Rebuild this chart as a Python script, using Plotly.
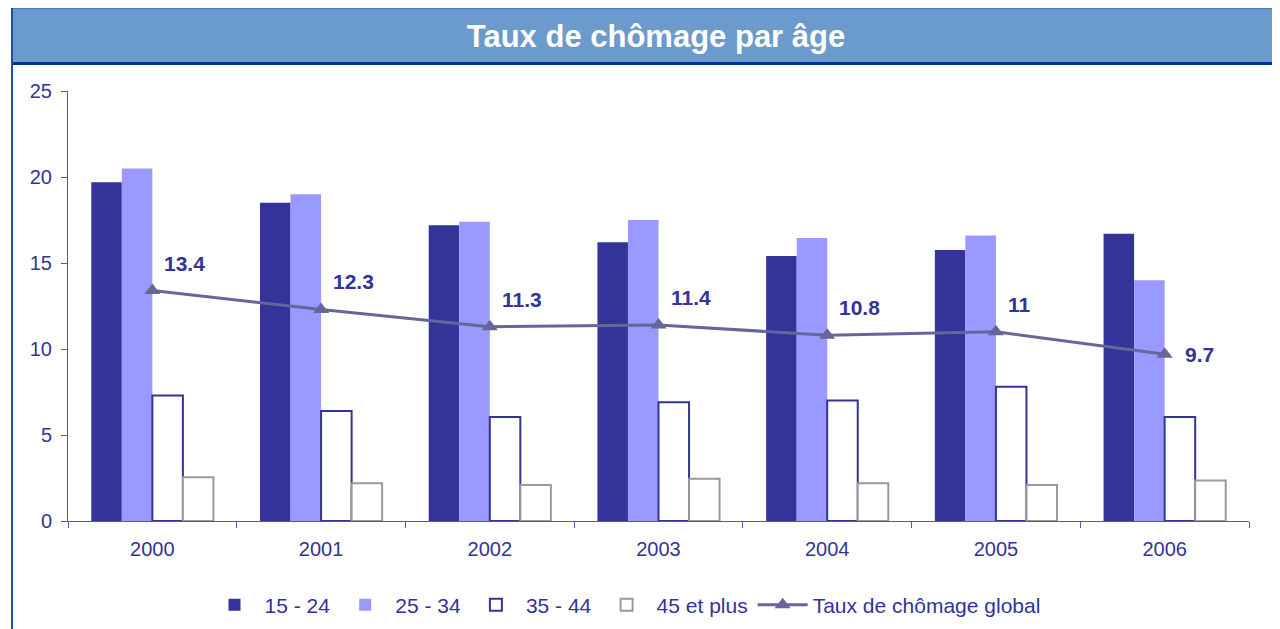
import plotly.graph_objects as go

years = ["2000", "2001", "2002", "2003", "2004", "2005", "2006"]
s_15_24 = [19.7, 18.5, 17.2, 16.2, 15.4, 15.75, 16.7]
s_25_34 = [20.5, 19.0, 17.4, 17.5, 16.45, 16.6, 14.0]
s_35_44 = [7.3, 6.4, 6.05, 6.9, 7.0, 7.8, 6.05]
s_45_plus = [2.55, 2.2, 2.1, 2.45, 2.2, 2.1, 2.35]
global_rate = [13.4, 12.3, 11.3, 11.4, 10.8, 11.0, 9.7]
global_labels = ["13.4", "12.3", "11.3", "11.4", "10.8", "11", "9.7"]
series_names = ["15 - 24", "25 - 34", "35 - 44", "45 et plus", "Taux de chômage global"]
title_text = "Taux de chômage par âge"

W, H = 1280, 629
OFF = 8  # page body margin
# plot box in screen pixels
SL, ST, SR, SB = 68, 91, 1249, 521
PW, PH = SR - SL, SB - ST
L, T = SL - OFF, ST - OFF
R, B = W - (SR - OFF), H - (SB - OFF)


def px(x):
    return (x - SL) / PW


def py(y):
    return (SB - y) / PH


FONT = "Arial, Liberation Sans, sans-serif"
TXT = "#333399"

fig = go.Figure()
fig.add_trace(go.Bar(x=years, y=s_15_24, name=series_names[0],
                     marker=dict(color="#333399", line=dict(width=0))))
fig.add_trace(go.Bar(x=years, y=s_25_34, name=series_names[1],
                     marker=dict(color="#9999FF", line=dict(width=0))))
fig.add_trace(go.Bar(x=years, y=s_35_44, name=series_names[2],
                     marker=dict(color="white", line=dict(color="#333399", width=2))))
fig.add_trace(go.Bar(x=years, y=s_45_plus, name=series_names[3],
                     marker=dict(color="white", line=dict(color="#999999", width=2))))
fig.add_trace(go.Scatter(x=years, y=global_rate, name=series_names[4], mode="lines+markers",
                         line=dict(color="#666699", width=3),
                         marker=dict(symbol="triangle-up", size=14, color="#666699")))

annotations = []
for i, (v, lab) in enumerate(zip(global_rate, global_labels)):
    last = i == len(global_rate) - 1
    annotations.append(dict(
        x=i, y=v, xref="x", yref="y", text="<b>%s</b>" % lab, showarrow=False,
        xanchor="left", yanchor="middle" if last else "bottom",
        xshift=18 if last else 10, yshift=0 if last else 14,
        font=dict(family=FONT, size=21, color=TXT)))

shapes = [
    # title band
    dict(type="rect", xref="paper", yref="paper", x0=px(11), x1=px(1300), y0=py(64), y1=py(7),
         fillcolor="#6A9BCC", line=dict(width=0), layer="below"),
    dict(type="line", xref="paper", yref="paper", x0=px(11), x1=px(1300), y0=py(7.5), y1=py(7.5),
         line=dict(color="#2A5AAA", width=2)),
    dict(type="line", xref="paper", yref="paper", x0=px(11), x1=px(1300), y0=py(63.5), y1=py(63.5),
         line=dict(color="#003399", width=3)),
    dict(type="line", xref="paper", yref="paper", x0=px(12), x1=px(12), y0=py(7), y1=py(650),
         line=dict(color="#1F4EAA", width=2)),
]

fig.update_layout(
    width=W, height=H,
    margin=dict(l=L, r=R, t=T, b=B, autoexpand=False),
    paper_bgcolor="white", plot_bgcolor="white",
    barmode="group", bargap=0.276, bargroupgap=0,
    font=dict(family=FONT, size=20, color=TXT),
    title=dict(text="<b>%s</b>" % title_text, x=(656 - OFF) / W, xanchor="center",
               y=1 - (36 - OFF) / H, yanchor="middle",
               font=dict(family=FONT, size=31, color="white")),
    showlegend=True,
    legend=dict(orientation="h", x=px(625), xanchor="center", y=py(605), yanchor="middle",
                font=dict(family=FONT, size=21, color=TXT), itemwidth=50,
                bgcolor="rgba(0,0,0,0)"),
    xaxis=dict(type="category", range=[-0.5, len(years) - 0.5], automargin=False,
               showline=True, linecolor="#5555AA", linewidth=1,
               ticks="outside", ticklen=6, tickcolor="#5555AA", tickson="boundaries",
               ticklabelstandoff=10,
               tickangle=0, showgrid=False, tickfont=dict(family=FONT, size=20, color=TXT)),
    yaxis=dict(range=[0, 25], dtick=5, automargin=False, showline=True, linecolor="#5555AA",
               linewidth=1, ticks="outside", ticklen=6, tickcolor="#5555AA", showgrid=False,
               ticklabelstandoff=5,
               zeroline=False, tickfont=dict(family=FONT, size=20, color=TXT)),
    annotations=annotations,
    shapes=shapes,
)

fig.write_html("out.html")
